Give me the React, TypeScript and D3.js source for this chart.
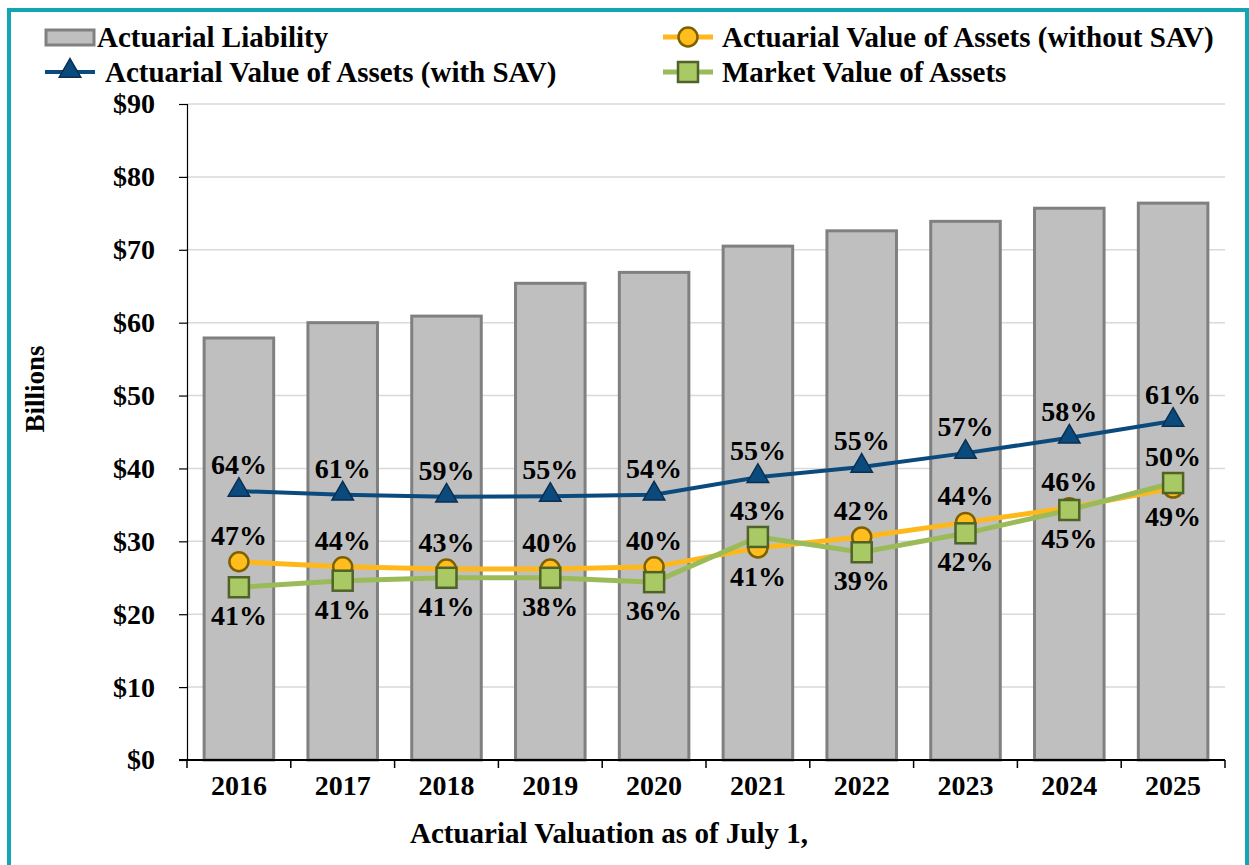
import * as d3 from "d3";
import { useEffect, useRef } from "react";

const years = ["2016", "2017", "2018", "2019", "2020", "2021", "2022", "2023", "2024", "2025"];
const liability = [57.9, 60.0, 60.9, 65.4, 66.9, 70.5, 72.6, 73.9, 75.7, 76.4];
const avaWithSav = [36.9, 36.4, 36.1, 36.2, 36.4, 38.8, 40.2, 42.1, 44.2, 46.5];
const avaWithoutSav = [27.2, 26.5, 26.2, 26.2, 26.5, 29.1, 30.6, 32.6, 34.6, 37.3];
const marketValue = [23.7, 24.6, 25.0, 25.0, 24.4, 30.6, 28.5, 31.1, 34.3, 38.0];
const pctWithSav = ["64%", "61%", "59%", "55%", "54%", "55%", "55%", "57%", "58%", "61%"];
const pctWithoutSav = ["47%", "44%", "43%", "40%", "40%", "41%", "42%", "44%", "46%", "49%"];
const pctMarket = ["41%", "41%", "41%", "38%", "36%", "43%", "39%", "42%", "45%", "50%"];
const yTicks = [0, 10, 20, 30, 40, 50, 60, 70, 80, 90];

const FONT = "'Liberation Serif', 'Times New Roman', serif";
const BLUE = "#0b4a7c";
const GOLD = "#ffb81c";
const GREEN = "#9bbb59";

export default function App() {
  const ref = useRef<SVGSVGElement>(null);

  useEffect(() => {
    const svg = d3.select(ref.current);
    svg.selectAll("*").remove();

    const left = 187, right = 1225, top = 104, bottom = 760;
    const x = d3.scaleBand().domain(years).range([left, right]);
    const y = d3.scaleLinear().domain([0, 90]).range([bottom, top]);
    const cx = (i: number) => (x(years[i]) as number) + x.bandwidth() / 2;
    const barW = x.bandwidth() * 0.67;

    // frame
    svg.append("rect")
      .attr("x", 9).attr("y", 10).attr("width", 1238).attr("height", 900)
      .attr("fill", "white").attr("stroke", "#12a6b5").attr("stroke-width", 4);

    // gridlines
    svg.append("g").selectAll("line").data(yTicks.slice(1)).join("line")
      .attr("x1", left).attr("x2", right)
      .attr("y1", (d) => y(d)).attr("y2", (d) => y(d))
      .attr("stroke", "#d9d9d9").attr("stroke-width", 1.5);

    // bars
    svg.append("g").selectAll("rect").data(liability).join("rect")
      .attr("x", (d, i) => cx(i) - barW / 2)
      .attr("y", (d) => y(d))
      .attr("width", barW)
      .attr("height", (d) => bottom - y(d))
      .attr("fill", "#bfbfbf").attr("stroke", "#808080").attr("stroke-width", 3);

    // y axis
    const yAxis = svg.append("g")
      .attr("transform", `translate(${left},0)`)
      .call(d3.axisLeft(y).tickValues(yTicks).tickSize(8).tickPadding(24).tickFormat((d) => `$${d}`));
    yAxis.select(".domain").attr("stroke", "#000").attr("stroke-width", 1.2);
    yAxis.selectAll(".tick line").attr("stroke", "#000").attr("stroke-width", 1.2);
    yAxis.selectAll("text")
      .attr("font-family", FONT).attr("font-weight", "bold").attr("font-size", 28).attr("fill", "#000");

    // x axis
    const xa = svg.append("g");
    xa.append("line").attr("x1", left - 8).attr("x2", right).attr("y1", bottom).attr("y2", bottom)
      .attr("stroke", "#000").attr("stroke-width", 2);
    xa.selectAll("line.tk").data([...years.map((yr) => x(yr) as number), right]).join("line")
      .attr("class", "tk")
      .attr("x1", (d) => d).attr("x2", (d) => d).attr("y1", bottom).attr("y2", bottom + 8)
      .attr("stroke", "#000").attr("stroke-width", 1.5);
    xa.selectAll("text").data(years).join("text")
      .attr("x", (d, i) => cx(i)).attr("y", 795)
      .attr("text-anchor", "middle")
      .attr("font-family", FONT).attr("font-weight", "bold").attr("font-size", 28)
      .text((d) => d);

    // axis titles
    svg.append("text").attr("x", 609).attr("y", 843).attr("text-anchor", "middle")
      .attr("font-family", FONT).attr("font-weight", "bold").attr("font-size", 29)
      .text("Actuarial Valuation as of July 1,");
    svg.append("text").attr("transform", "translate(44,389) rotate(-90)").attr("text-anchor", "middle")
      .attr("font-family", FONT).attr("font-weight", "bold").attr("font-size", 27)
      .text("Billions");

    const lineGen = d3.line<number>().x((d, i) => cx(i)).y((d) => y(d));

    // with SAV
    svg.append("path").attr("d", lineGen(avaWithSav)).attr("fill", "none")
      .attr("stroke", BLUE).attr("stroke-width", 4);
    const tri = d3.symbol().type(d3.symbolTriangle).size(200);
    svg.append("g").selectAll("path").data(avaWithSav).join("path")
      .attr("d", tri)
      .attr("transform", (d, i) => `translate(${cx(i)},${y(d) - 1})`)
      .attr("fill", BLUE).attr("stroke", "#0a2f52").attr("stroke-width", 1.5);

    // without SAV
    svg.append("path").attr("d", lineGen(avaWithoutSav)).attr("fill", "none")
      .attr("stroke", GOLD).attr("stroke-width", 5);
    svg.append("g").selectAll("circle").data(avaWithoutSav).join("circle")
      .attr("cx", (d, i) => cx(i)).attr("cy", (d) => y(d)).attr("r", 9.5)
      .attr("fill", "#ffbe1e").attr("stroke", "#7f6000").attr("stroke-width", 2.5);

    // market
    svg.append("path").attr("d", lineGen(marketValue)).attr("fill", "none")
      .attr("stroke", GREEN).attr("stroke-width", 5);
    svg.append("g").selectAll("rect").data(marketValue).join("rect")
      .attr("x", (d, i) => cx(i) - 10).attr("y", (d) => y(d) - 10)
      .attr("width", 20).attr("height", 20)
      .attr("fill", "#a9c964").attr("stroke", "#4f6228").attr("stroke-width", 2.5);

    // data labels
    const lab = svg.append("g")
      .attr("font-family", FONT).attr("font-weight", "bold").attr("font-size", 28)
      .attr("text-anchor", "middle").attr("fill", "#000");
    avaWithSav.forEach((v, i) => {
      lab.append("text").attr("x", cx(i)).attr("y", y(v) - 17).text(pctWithSav[i]);
    });
    years.forEach((yr, i) => {
      const wo = avaWithoutSav[i], mv = marketValue[i];
      const woAbove = wo >= mv;
      lab.append("text").attr("x", cx(i))
        .attr("y", woAbove ? y(wo) - 17 : y(wo) + 38).text(pctWithoutSav[i]);
      lab.append("text").attr("x", cx(i))
        .attr("y", woAbove ? y(mv) + 38 : y(mv) - 17).text(pctMarket[i]);
    });

    // legend
    const lg = svg.append("g")
      .attr("font-family", FONT).attr("font-weight", "bold").attr("font-size", 29);
    lg.append("rect").attr("x", 46).attr("y", 30).attr("width", 48).attr("height", 15)
      .attr("fill", "#bfbfbf").attr("stroke", "#808080").attr("stroke-width", 3);
    lg.append("text").attr("x", 97).attr("y", 47).text("Actuarial Liability");

    lg.append("line").attr("x1", 45).attr("x2", 95).attr("y1", 72).attr("y2", 72)
      .attr("stroke", BLUE).attr("stroke-width", 4);
    lg.append("path").attr("d", tri).attr("transform", "translate(70,71)")
      .attr("fill", BLUE).attr("stroke", "#0a2f52").attr("stroke-width", 1.5);
    lg.append("text").attr("x", 105).attr("y", 82).text("Actuarial Value of Assets (with SAV)");

    lg.append("line").attr("x1", 663).attr("x2", 713).attr("y1", 37).attr("y2", 37)
      .attr("stroke", GOLD).attr("stroke-width", 5);
    lg.append("circle").attr("cx", 688).attr("cy", 37).attr("r", 9.5)
      .attr("fill", "#ffbe1e").attr("stroke", "#7f6000").attr("stroke-width", 2.5);
    lg.append("text").attr("x", 722).attr("y", 47).text("Actuarial Value of Assets (without SAV)");

    lg.append("line").attr("x1", 663).attr("x2", 713).attr("y1", 72).attr("y2", 72)
      .attr("stroke", GREEN).attr("stroke-width", 5);
    lg.append("rect").attr("x", 678).attr("y", 62).attr("width", 20).attr("height", 20)
      .attr("fill", "#a9c964").attr("stroke", "#4f6228").attr("stroke-width", 2.5);
    lg.append("text").attr("x", 722).attr("y", 82).text("Market Value of Assets");
  }, []);

  return (
    <svg
      ref={ref}
      width={1249}
      height={865}
      style={{ position: "absolute", left: 0, top: 0, background: "white" }}
    />
  );
}
